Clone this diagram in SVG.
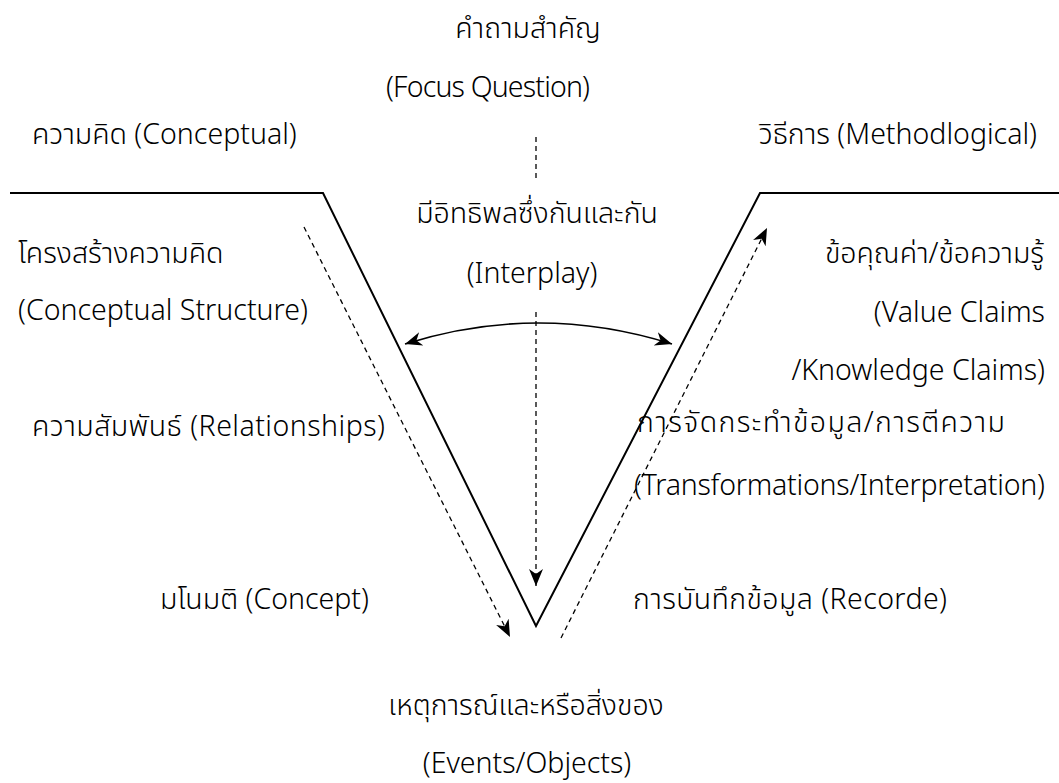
<svg xmlns="http://www.w3.org/2000/svg" width="1059" height="783" viewBox="0 0 1059 783">
  <style>
    text { font-family: "Noto Sans", "Noto Sans Thai", "Leelawadee UI", "DejaVu Sans", sans-serif; font-size: 28.5px; font-weight: 300; fill: #000; }
    .mid { text-anchor: middle; }
    .end { text-anchor: end; }
    .solid { fill: none; stroke: #000; stroke-width: 2; }
    .dash { fill: none; stroke: #000; stroke-width: 1.3; stroke-dasharray: 5 4; }
    .arc { fill: none; stroke: #000; stroke-width: 1.6; }
  </style>
  <defs>
    <marker id="barb" markerUnits="userSpaceOnUse" markerWidth="20" markerHeight="16" refX="17" refY="7" orient="auto-start-reverse" viewBox="0 0 20 14">
      <path d="M0,0 L17,7 L0,14 L5,7 z" fill="#000"/>
    </marker>
  </defs>

  <rect width="1059" height="783" fill="#fff"/>

  <!-- V frame -->
  <g id="vee">
    <polyline class="solid" points="10,193 323,193 536,626 760,193 1059,193"/>
  </g>

  <!-- connectors -->
  <g id="connectors">
    <line class="dash" x1="536" y1="137" x2="536" y2="178"/>
    <line class="dash" x1="536" y1="312" x2="536" y2="586" marker-end="url(#barb)"/>
    <line class="dash" x1="304" y1="227" x2="510" y2="637" marker-end="url(#barb)"/>
    <line class="dash" x1="561" y1="638" x2="767" y2="228" marker-end="url(#barb)"/>
    <path class="arc" d="M405,344 Q538,302 672,344" marker-start="url(#barb)" marker-end="url(#barb)"/>
  </g>

  <g id="focus-question">
    <text class="mid" x="528" y="38">คำถามสำคัญ</text>
    <text class="mid" x="488" y="97" textLength="204">(Focus Question)</text>
  </g>

  <g id="conceptual">
    <text x="32" y="144">ความคิด (Conceptual)</text>
  </g>

  <g id="methodological">
    <text class="end" x="1037" y="144">วิธีการ (Methodlogical)</text>
  </g>

  <g id="interplay">
    <text class="mid" x="537" y="223">มีอิทธิพลซึ่งกันและกัน</text>
    <text class="mid" x="532" y="283">(Interplay)</text>
  </g>

  <g id="conceptual-structure">
    <text x="18" y="263">โครงสร้างความคิด</text>
    <text x="18" y="320">(Conceptual Structure)</text>
  </g>

  <g id="claims">
    <text class="end" x="1044" y="263">ข้อคุณค่า/ข้อความรู้</text>
    <text class="end" x="1045" y="322">(Value Claims</text>
    <text class="end" x="1045" y="380">/Knowledge Claims)</text>
  </g>

  <g id="relationships">
    <text x="32" y="436" textLength="353">ความสัมพันธ์ (Relationships)</text>
  </g>

  <g id="transformations">
    <text x="637" y="432" textLength="368">การจัดกระทำข้อมูล/การตีความ</text>
    <text x="634" y="495" textLength="411">(Transformations/Interpretation)</text>
  </g>

  <g id="concept">
    <text x="160" y="609">มโนมติ (Concept)</text>
  </g>

  <g id="records">
    <text x="633" y="609" textLength="314">การบันทึกข้อมูล (Recorde)</text>
  </g>

  <g id="events">
    <text class="mid" x="526" y="715">เหตุการณ์และหรือสิ่งของ</text>
    <text class="mid" x="527" y="773">(Events/Objects)</text>
  </g>
</svg>
